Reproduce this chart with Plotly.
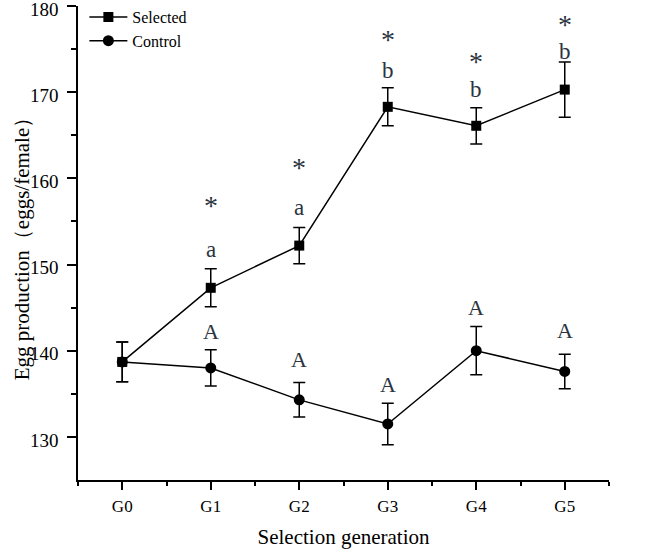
import plotly.graph_objects as go

generations = ["G0", "G1", "G2", "G3", "G4", "G5"]
selected_mean = [138.7, 147.3, 152.2, 168.3, 166.1, 170.3]
selected_err = [2.3, 2.2, 2.1, 2.2, 2.1, 3.2]
control_mean = [138.7, 138.0, 134.3, 131.5, 140.0, 137.6]
control_err = [2.3, 2.1, 2.0, 2.4, 2.8, 2.0]
selected_letters = ["", "a", "a", "b", "b", "b"]
selected_letter_y = [None, 151.7, 156.6, 172.5, 170.3, 174.7]
star_y = [None, 157.6, 161.9, 176.8, 174.3, 178.5]
control_letters = ["", "A", "A", "A", "A", "A"]
control_letter_y = [None, 142.2, 139.0, 136.1, 145.0, 142.3]

xs = list(range(len(generations)))

fig = go.Figure()
fig.add_trace(go.Scatter(
    x=xs, y=selected_mean, name="Selected", mode="lines+markers",
    line=dict(color="black", width=1.5),
    marker=dict(symbol="square", size=10, color="black"),
    error_y=dict(type="data", array=selected_err, color="black", thickness=1.5, width=6),
))
fig.add_trace(go.Scatter(
    x=xs, y=control_mean, name="Control", mode="lines+markers",
    line=dict(color="black", width=1.5),
    marker=dict(symbol="circle", size=11, color="black"),
    error_y=dict(type="data", array=control_err, color="black", thickness=1.5, width=6),
))

ann = []
lab_color = "#2b3440"
for i in xs:
    if star_y[i] is not None:
        ann.append(dict(x=i, y=star_y[i], text="*", showarrow=False,
                        font=dict(family="Liberation Serif", size=28, color=lab_color),
                        yanchor="middle", yshift=-6))
    if selected_letter_y[i] is not None:
        ann.append(dict(x=i, y=selected_letter_y[i], text=selected_letters[i], showarrow=False,
                        font=dict(family="Liberation Serif", size=23, color=lab_color),
                        yanchor="middle"))
    if control_letter_y[i] is not None:
        ann.append(dict(x=i, y=control_letter_y[i], text=control_letters[i], showarrow=False,
                        font=dict(family="Liberation Serif", size=22, color=lab_color),
                        yanchor="middle"))

ann.append(dict(xref="paper", yref="paper", x=-0.105, y=0.5, xanchor="center", yanchor="middle",
                text="Egg production（eggs/female）", textangle=-90, showarrow=False,
                font=dict(family="Liberation Serif", size=21, color="black")))

fig.update_layout(
    width=669, height=553,
    margin=dict(l=78, r=60, t=6, b=73, autoexpand=False),
    plot_bgcolor="white", paper_bgcolor="white",
    font=dict(family="Liberation Serif", color="black"),
    showlegend=True,
    legend=dict(x=0.012, y=1.0, yref="container", xanchor="left", yanchor="top",
                font=dict(family="Liberation Serif", size=16, color="black"),
                bgcolor="rgba(0,0,0,0)", itemwidth=38, tracegroupgap=0),
    annotations=ann,
    xaxis=dict(
        range=[-0.5, 5.5], tickmode="array", tickvals=xs, ticktext=generations,
        showline=True, linecolor="black", linewidth=1.5, mirror=False,
        ticks="outside", ticklen=8, tickwidth=1.5, tickcolor="black",
        tickfont=dict(family="Liberation Serif", size=17, color="black"),
        ticklabelstandoff=2,
        showgrid=False, zeroline=False, automargin=False,
        minor=dict(tickmode="array", tickvals=[-0.5, 0.5, 1.5, 2.5, 3.5, 4.5, 5.5],
                   ticks="outside", ticklen=4, tickwidth=1.5, tickcolor="black"),
        title=dict(text="Selection generation", font=dict(family="Liberation Serif", size=21, color="black"), standoff=14),
    ),
    yaxis=dict(
        range=[125, 180], tickmode="array", tickvals=[130, 140, 150, 160, 170, 180],
        showline=True, linecolor="black", linewidth=1.5, mirror=False,
        ticks="outside", ticklen=9, tickwidth=1.5, tickcolor="black",
        tickfont=dict(family="Liberation Serif", size=19, color="black"),
        ticklabelstandoff=5, ticklabelshift=3, ticklabeloverflow="allow",
        showgrid=False, zeroline=False, automargin=False,
        minor=dict(tickmode="array", tickvals=[135, 145, 155, 165, 175],
                   ticks="outside", ticklen=5, tickwidth=1.5, tickcolor="black"),
    ),
)

fig.write_html("out.html")
